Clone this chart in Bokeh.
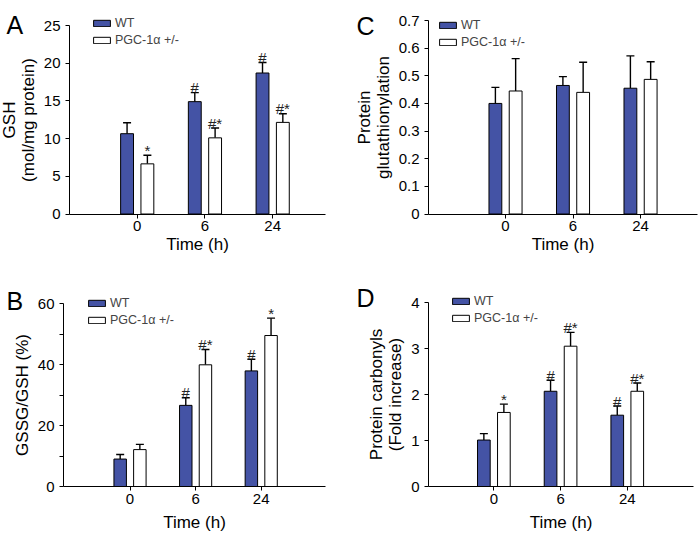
import numpy as np
from bokeh.plotting import figure
from bokeh.models import (ColumnDataSource, FixedTicker, Legend, LegendItem, Label,
                          Range1d, Whisker, TeeHead)
from bokeh.layouts import column, row
from bokeh.embed import file_html
from bokeh.resources import INLINE
from bokeh.core.properties import value

# ---------------- data ----------------
times = ["0", "6", "24"]
group_labels = ["WT", "PGC-1α +/-"]

gsh_wt = [10.65, 14.9, 18.7]
gsh_wt_err = [1.45, 1.2, 1.4]
gsh_ko = [6.65, 10.1, 12.15]
gsh_ko_err = [1.15, 1.3, 1.15]
gsh_wt_sig = ["", "#", "#"]
gsh_ko_sig = ["*", "#*", "#*"]

ratio_wt = [9.0, 26.6, 37.9]
ratio_wt_err = [1.5, 2.5, 3.8]
ratio_ko = [12.1, 39.9, 49.5]
ratio_ko_err = [1.7, 5.0, 5.7]
ratio_wt_sig = ["", "#", "#"]
ratio_ko_sig = ["", "#*", "*"]

glut_wt = [0.40, 0.465, 0.455]
glut_wt_err = [0.058, 0.032, 0.117]
glut_ko = [0.445, 0.44, 0.487]
glut_ko_err = [0.117, 0.109, 0.064]
glut_wt_sig = ["", "", ""]
glut_ko_sig = ["", "", ""]

carb_wt = [1.01, 2.07, 1.55]
carb_wt_err = [0.14, 0.24, 0.2]
carb_ko = [1.61, 3.05, 2.07]
carb_ko_err = [0.18, 0.3, 0.18]
carb_wt_sig = ["", "#", "#"]
carb_ko_sig = ["*", "#*", "#*"]

gsh_yticks = [0, 5, 10, 15, 20, 25]
ratio_yticks = [0, 20, 40, 60]
ratio_yminor = [10, 30, 50]
glut_yticks = [0, 0.1, 0.2, 0.3, 0.4, 0.5, 0.6, 0.7]
carb_yticks = [0, 1, 2, 3, 4]

# ---------------- style ----------------
FONT = "Liberation Sans"
BLUE = "#4453A5"
BAR_W = 0.19
OFF = 0.15


def extend(a0, a1, p0, p1, size):
    """Range whose a0 falls at pixel p0 and a1 at pixel p1, over a frame of `size` px."""
    k = (a1 - a0) / (p1 - p0)
    return a0 - p0 * k, a0 + (size - p0) * k


def panel(letter, wt, wt_err, ko, ko_err, wt_sig, ko_sig, ylabel, yticks, yminor,
          ymax, xaxis_span, W, H, frame_px, legend_loc, letter_xy, xlabel_standoff,
          y_overrides=None):
    # frame_px: (axis left px, axis right px, top px of ymax, bottom px of 0), from figure top-left
    L, R, T, B = frame_px
    xs, xe = extend(xaxis_span[0], xaxis_span[1], L, R, W)
    ys, ye = extend(0, ymax, H - B, H - T, H)
    p = figure(width=W, height=H, output_backend="svg", toolbar_location=None,
               x_range=Range1d(xs, xe), y_range=Range1d(ys, ye),
               min_border=0, min_border_left=0, min_border_right=0,
               min_border_top=0, min_border_bottom=0)
    p.outline_line_color = None
    p.grid.visible = False
    p.background_fill_color = "white"
    p.border_fill_color = "white"

    pos = np.arange(1, len(times) + 1)
    src = ColumnDataSource(dict(
        x_wt=pos - OFF, x_ko=pos + OFF,
        wt=wt, ko=ko,
        wt_top=np.add(wt, wt_err), ko_top=np.add(ko, ko_err),
        wt_sig=wt_sig, ko_sig=ko_sig,
    ))

    for xcol, base, top in (("x_wt", "wt", "wt_top"), ("x_ko", "ko", "ko_top")):
        w = Whisker(source=src, base=xcol, lower=base, upper=top, dimension="height",
                    line_color="black", line_width=1.4, lower_head=None,
                    upper_head=TeeHead(size=8, line_color="black", line_width=1.4),
                    level="underlay")
        p.add_layout(w)

    r_wt = p.vbar(x="x_wt", top="wt", bottom=0, width=BAR_W, source=src,
                  fill_color=BLUE, line_color="black", line_width=1)
    r_ko = p.vbar(x="x_ko", top="ko", bottom=0, width=BAR_W, source=src,
                  fill_color="white", line_color="black", line_width=1)

    for xcol, tcol, scol in (("x_wt", "wt_top", "wt_sig"), ("x_ko", "ko_top", "ko_sig")):
        p.text(x=xcol, y=tcol, text=scol, source=src, y_offset=-5,
               text_align="center", text_baseline="alphabetic",
               text_font=value(FONT), text_font_size="15px", text_color="#222222")

    # x axis
    xa = p.xaxis[0]
    xa.ticker = FixedTicker(ticks=list(pos), minor_ticks=[])
    xa.major_label_overrides = {int(k): t for k, t in zip(pos, times)}
    xa.axis_label = "Time (h)"
    xa.fixed_location = 0
    xa.bounds = (xaxis_span[0], xaxis_span[1])
    # y axis
    ya = p.yaxis[0]
    ya.ticker = FixedTicker(ticks=yticks, minor_ticks=yminor)
    if y_overrides:
        ya.major_label_overrides = y_overrides
    ya.axis_label = ylabel
    ya.fixed_location = xaxis_span[0]
    ya.bounds = (0, ymax)
    for ax in (xa, ya):
        ax.axis_line_color = "black"
        ax.axis_line_width = 1
        ax.major_tick_in = 0
        ax.major_tick_out = 4
        ax.minor_tick_in = 0
        ax.minor_tick_out = 4
        ax.major_tick_line_color = "black"
        ax.minor_tick_line_color = "black"
        ax.major_label_text_font = FONT
        ax.major_label_text_font_size = "15px"
        ax.major_label_text_color = "black"
        ax.axis_label_text_font = FONT
        ax.axis_label_text_font_size = "17px"
        ax.axis_label_text_font_style = "normal"
        ax.axis_label_text_color = "black"
    xa.major_label_standoff = 3
    ya.major_label_standoff = 5
    xa.axis_label_standoff = xlabel_standoff
    ya.axis_label_standoff = 3
    ya.axis_label_text_line_height = 1.0

    legend = Legend(items=[LegendItem(label=group_labels[0], renderers=[r_wt]),
                           LegendItem(label=group_labels[1], renderers=[r_ko])],
                    location=legend_loc, orientation="vertical",
                    background_fill_alpha=0, border_line_color=None,
                    padding=0, margin=0, spacing=3,
                    glyph_width=21, glyph_height=8, label_height=8,
                    label_standoff=3,
                    label_text_font=FONT, label_text_font_size="12.5px")
    p.add_layout(legend)

    p.add_layout(Label(x=letter_xy[0], y=letter_xy[1], x_units="screen", y_units="screen",
                       text=letter, text_font=FONT, text_font_size="25px",
                       text_baseline="alphabetic", text_color="black"))
    return p


WL, WR, H1, H2 = 344, 354, 268, 269

pA = panel("A", gsh_wt, gsh_wt_err, gsh_ko, gsh_ko_err, gsh_wt_sig, gsh_ko_sig,
           "GSH\n(mol/mg protein)", gsh_yticks, [], 25, (0.0, 3.78), WL, H1,
           (69, 325, 25, 213.5), (91, 221), (6, 244), 0)
pB = panel("B", ratio_wt, ratio_wt_err, ratio_ko, ratio_ko_err, ratio_wt_sig, ratio_ko_sig,
           "GSSG/GSH (%)", ratio_yticks, ratio_yminor, 60, (-0.014, 3.98), WL, H2,
           (63, 325, 35, 218), (86, 210), (6, 237), 6,
           y_overrides={m: "" for m in ratio_yminor})
pC = panel("C", glut_wt, glut_wt_err, glut_ko, glut_ko_err, glut_wt_sig, glut_ko_sig,
           "Protein\nglutathionylation", glut_yticks, [], 0.7, (-0.141, 3.844), WR, H1,
           (84, 353, 20, 213.5), (93, 219), (12, 243), 0,
           y_overrides={0: "0"})
pD = panel("D", carb_wt, carb_wt_err, carb_ko, carb_ko_err, carb_wt_sig, carb_ko_sig,
           "Protein carbonyls\n(Fold increase)", carb_yticks, [], 4, (0.02, 3.993), WR, H2,
           (84, 349, 34, 218), (106, 212), (12, 240), 6)

layout = column(row(pA, pC), row(pB, pD))
open("out.html", "w").write(file_html(layout, INLINE))
